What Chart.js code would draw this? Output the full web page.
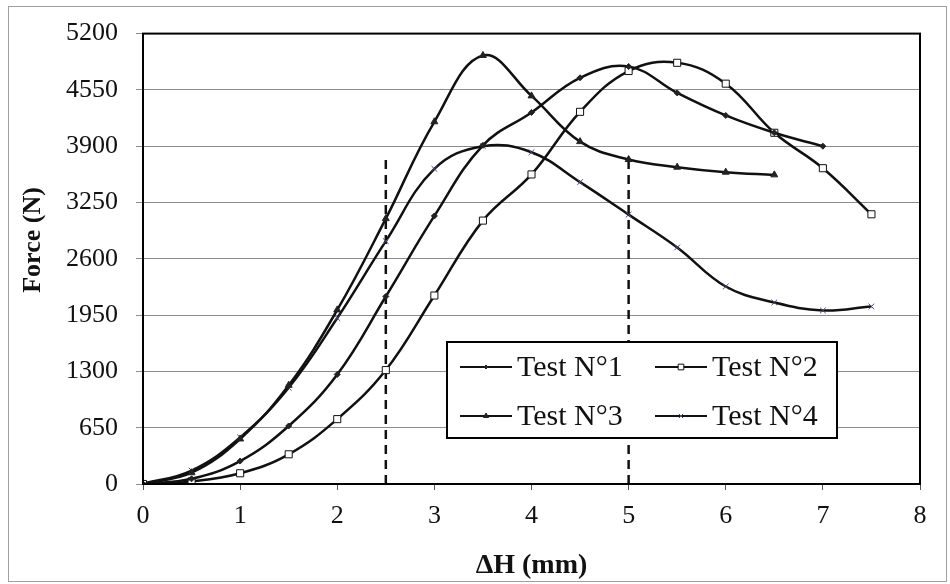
<!DOCTYPE html>
<html>
<head>
<meta charset="utf-8">
<script src="https://cdn.jsdelivr.net/npm/chart.js@4/dist/chart.umd.min.js"></script>
<style>
  body { margin: 0; background: #fff; }
  canvas { display: block; }
</style>
</head>
<body>
<canvas id="grafico" width="950" height="584"></canvas>
<script>
// deplacement (mm) et effort (N) pour chaque essai
const dh1 = [0, 0.5, 1, 1.5, 2, 2.5, 3, 3.5, 4, 4.5, 5, 5.5, 6, 6.5, 7];
const force1 = [0, 60, 265, 670, 1265, 2165, 3095, 3910, 4290, 4690, 4820, 4515, 4255, 4055, 3900];

const dh2 = [0, 0.5, 1, 1.5, 2, 2.5, 3, 3.5, 4, 4.5, 5, 5.5, 6, 6.5, 7, 7.5];
const force2 = [0, 30, 124, 343, 749, 1315, 2176, 3041, 3574, 4297, 4768, 4863, 4622, 4055, 3646, 3114];

const dh3 = [0, 0.5, 1, 1.5, 2, 2.5, 3, 3.5, 4, 4.5, 5, 5.5, 6, 6.5];
const force3 = [0, 130, 520, 1140, 2010, 3064, 4182, 4948, 4481, 3953, 3746, 3658, 3600, 3569];

const dh4 = [0, 0.5, 1, 1.5, 2, 2.5, 3, 3.5, 4, 4.5, 5, 5.5, 6, 6.5, 7, 7.5];
const force4 = [0, 155, 538, 1112, 1916, 2804, 3638, 3900, 3830, 3485, 3110, 2731, 2280, 2096, 2004, 2050];

// reperes verticaux en pointilles
const reperesX = [2.5, 5];
const repereHaut = 3750;

const nomsEssais = ["Test N°1", "Test N°2", "Test N°3", "Test N°4"];
const ticksY = [0, 650, 1300, 1950, 2600, 3250, 3900, 4550, 5200];
const ticksX = [0, 1, 2, 3, 4, 5, 6, 7, 8];

const POLICE = "'Liberation Serif', 'Times New Roman', serif";

function points(xs, ys) {
  return xs.map((x, i) => ({ x: x, y: ys[i] }));
}

const styles = [
  { pointStyle: "rectRot", pointRadius: 3, pointBackgroundColor: "#222", pointBorderColor: "#222" },
  { pointStyle: "rect", pointRadius: 5, pointBackgroundColor: "#fff", pointBorderColor: "#111" },
  { pointStyle: "triangle", pointRadius: 4, pointBackgroundColor: "#222", pointBorderColor: "#222" },
  { pointStyle: "crossRot", pointRadius: 4, pointBackgroundColor: "#4a4a78", pointBorderColor: "#4a4a78" }
];

const series = [[dh1, force1], [dh2, force2], [dh3, force3], [dh4, force4]];

const datasets = series.map((s, i) => Object.assign({
  label: nomsEssais[i],
  data: points(s[0], s[1]),
  borderColor: "#111",
  borderWidth: 2.5,
  tension: 0.4,
  pointBorderWidth: 1
}, styles[i]));

reperesX.forEach(x => {
  datasets.push({
    label: "",
    data: [{ x: x, y: 0 }, { x: x, y: repereHaut }],
    borderColor: "#111",
    borderWidth: 2.5,
    borderDash: [9, 6],
    pointRadius: 0
  });
});

// fond, cadre, titres des axes et legende
const habillage = {
  id: "habillage",
  beforeDraw(chart) {
    const ctx = chart.ctx;
    ctx.save();
    ctx.fillStyle = "#fff";
    ctx.fillRect(0, 0, chart.width, chart.height);
    ctx.restore();
  },
  afterDraw(chart) {
    const ctx = chart.ctx;
    const a = chart.chartArea;
    ctx.save();

    ctx.strokeStyle = "#a0a0a0";
    ctx.lineWidth = 1;
    ctx.strokeRect(8.5, 6.5, 938, 575);

    ctx.strokeStyle = "#000";
    ctx.lineWidth = 2;
    ctx.strokeRect(a.left, a.top, a.right - a.left, a.bottom - a.top);

    ctx.fillStyle = "#111";
    ctx.font = "bold 28px " + POLICE;
    ctx.textAlign = "center";
    ctx.textBaseline = "middle";
    ctx.fillText("ΔH (mm)", (a.left + a.right) / 2, 566);

    ctx.translate(33, 240);
    ctx.rotate(-Math.PI / 2);
    ctx.font = "bold 26px " + POLICE;
    ctx.fillText("Force (N)", 0, 0);
    ctx.setTransform(1, 0, 0, 1, 0, 0);

    // legende sur deux colonnes
    const bx = 447, by = 342, bw = 390, bh = 96;
    ctx.fillStyle = "#fff";
    ctx.fillRect(bx, by, bw, bh);
    ctx.strokeStyle = "#000";
    ctx.lineWidth = 2;
    ctx.strokeRect(bx, by, bw, bh);

    const cols = [460, 655];
    const rows = [367, 416];
    ctx.font = "30px " + POLICE;
    ctx.textAlign = "left";
    for (let i = 0; i < 4; i++) {
      const x0 = cols[i % 2];
      const y0 = rows[Math.floor(i / 2)];
      const ds = chart.data.datasets[i];
      ctx.strokeStyle = "#111";
      ctx.lineWidth = 2;
      ctx.beginPath();
      ctx.moveTo(x0, y0);
      ctx.lineTo(x0 + 52, y0);
      ctx.stroke();
      ctx.fillStyle = ds.pointBackgroundColor;
      ctx.strokeStyle = ds.pointBorderColor;
      ctx.lineWidth = 1;
      Chart.helpers.drawPoint(ctx, {
        pointStyle: ds.pointStyle,
        radius: ds.pointRadius - 1,
        rotation: 0,
        borderWidth: 1
      }, x0 + 26, y0);
      ctx.fillStyle = "#111";
      ctx.fillText(nomsEssais[i], x0 + 57, y0 + 1);
    }
    ctx.restore();
  }
};

new Chart(document.getElementById("grafico").getContext("2d"), {
  type: "line",
  data: { datasets: datasets },
  plugins: [habillage],
  options: {
    responsive: false,
    animation: false,
    layout: { padding: { top: 31, right: 30, left: 0, bottom: 0 } },
    plugins: {
      legend: { display: false },
      tooltip: { enabled: false }
    },
    scales: {
      x: {
        type: "linear",
        min: 0,
        max: 8,
        afterFit: s => { s.height = 100; },
        afterBuildTicks: s => { s.ticks = ticksX.map(v => ({ value: v })); },
        grid: { drawOnChartArea: false, drawTicks: true, tickLength: 6, tickColor: "#555" },
        border: { color: "#000", width: 2 },
        ticks: { color: "#111", padding: 11, font: { family: POLICE, size: 26 }, callback: v => String(v) }
      },
      y: {
        min: 0,
        max: 5200,
        afterFit: s => { s.width = 143; },
        afterBuildTicks: s => { s.ticks = ticksY.map(v => ({ value: v })); },
        grid: { color: "#8c8c8c", lineWidth: 1, tickLength: 7, tickColor: "#8c8c8c" },
        border: { color: "#000", width: 2 },
        ticks: { color: "#111", padding: 18, font: { family: POLICE, size: 26 }, callback: v => String(v) }
      }
    }
  }
});
</script>
</body>
</html>
